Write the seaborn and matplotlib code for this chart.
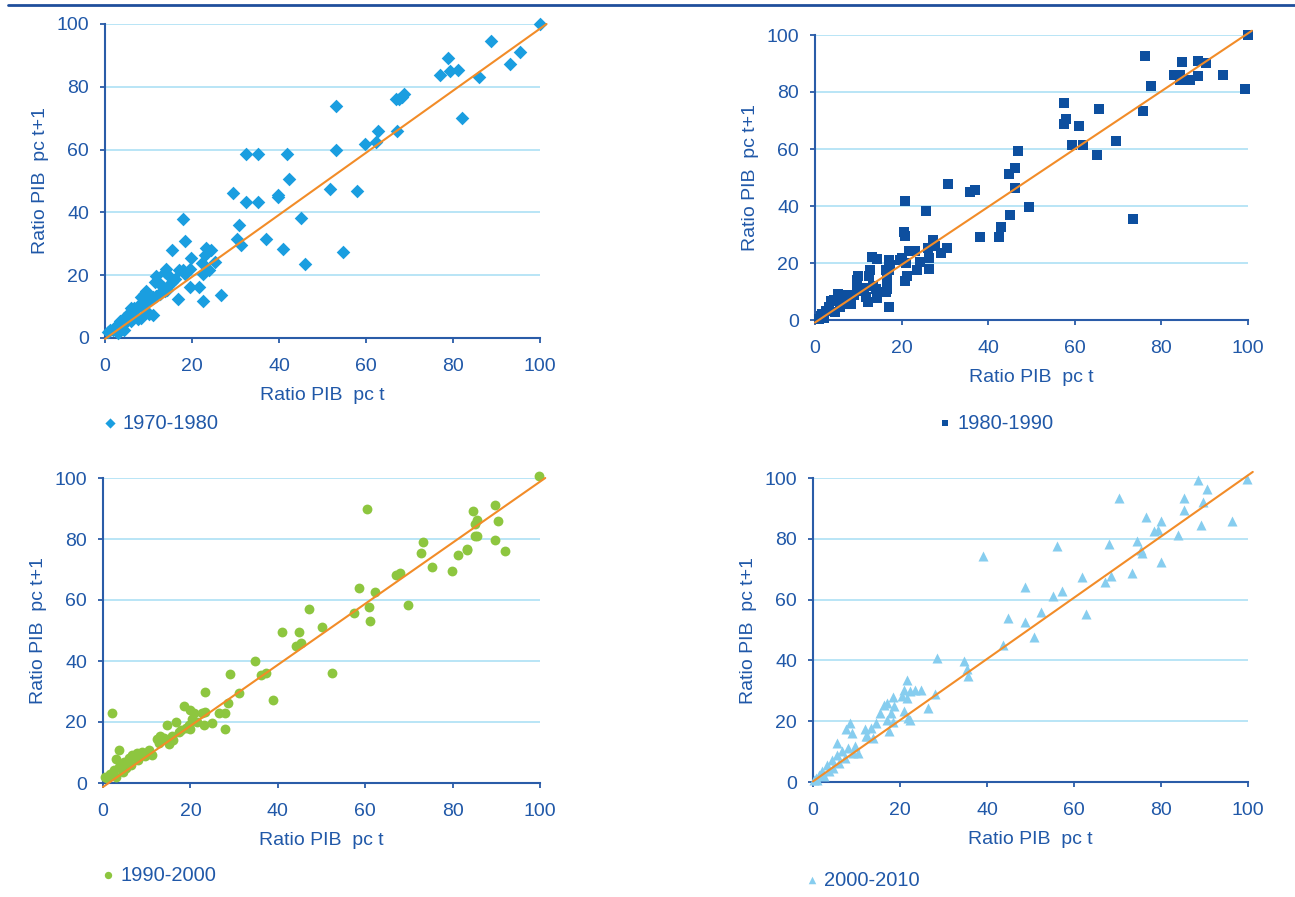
import matplotlib
matplotlib.use("Agg")
import pandas as pd
import matplotlib.pyplot as plt
from matplotlib.lines import Line2D
import seaborn as sns

# --- data (ratio PIB pc, t vs t+1) ---
x70 = [100, 88.7, 95.3, 93.1, 78.8, 77.1, 79.3, 81.1, 86.0, 82.0, 67.0, 67.6, 68.2, 68.7, 67.2,
       62.8, 62.2, 59.7, 53.0, 53.0, 51.7, 57.9, 45.0, 54.8, 45.9, 41.9, 42.4, 39.8, 39.7, 41.0,
       36.9, 32.5, 35.2, 32.5, 35.2, 29.4, 30.8, 30.3, 31.3,
       26.7, 22.5, 18.0, 18.4, 15.5, 23.2, 24.3, 23.1, 19.8, 22.2, 25.3, 23.9, 22.5, 21.6, 19.5,
       16.7, 19.6, 18.0, 16.9, 18.4, 14.1, 13.7, 14.5, 16.1, 15.3, 14.5, 11.4, 12.6, 13.3, 13.7,
       12.9, 11.8, 11.0, 11.0, 10.2, 9.4, 9.0, 8.2, 8.6, 7.5, 6.7, 8.2, 7.5, 5.9, 5.5, 4.3, 5.1,
       3.5, 2.7, 2.0, 1.2, 4.3, 3.1, 6.7, 5.9, 11.8, 10.2, 9.3, 6.4, 12.6, 14.3, 0.7, 1.9, 3.5,
       7.7, 9.0]
y70 = [100, 94.7, 91.1, 87.3, 89.1, 83.6, 84.9, 85.5, 83.1, 70.2, 76.2, 76.2, 76.9, 77.6, 66.0,
       66.0, 62.3, 61.7, 73.8, 59.8, 47.6, 46.9, 38.3, 27.3, 23.6, 58.6, 50.6, 45.5, 45.0, 28.5,
       31.6, 58.6, 58.6, 43.2, 43.2, 46.3, 35.9, 31.6, 29.6,
       13.7, 11.8, 37.8, 31.0, 28.0, 28.8, 28.0, 26.3, 25.5, 23.9, 24.2, 21.5, 20.4, 16.3, 16.3,
       12.4, 22.0, 21.5, 21.7, 20.4, 22.0, 21.0, 20.2, 18.8, 17.7, 16.7, 17.7, 17.2, 16.3, 15.1,
       14.5, 13.4, 12.9, 7.3, 7.5, 15.1, 14.0, 12.9, 11.3, 10.2, 9.7, 6.5, 5.9, 9.7, 8.1, 6.5, 5.4,
       5.4, 3.8, 3.2, 2.4, 2.7, 1.6, 7.0, 5.4, 19.9, 12.0, 8.8, 6.7, 14.1, 15.2, 1.9, 2.6, 2.4,
       9.9, 10.5]

x80 = [100, 99.4, 94.2, 76.1, 84.8, 88.5, 90.3, 82.9, 84.2, 84.3, 86.6, 88.5, 77.5, 75.7, 73.4,
       69.5, 65.5, 65.1, 61.9, 59.4, 60.9, 57.6, 57.9, 57.5, 46.8, 46.1, 44.7, 46.1, 45.1, 49.5,
       42.9, 42.6, 38.1, 35.9, 37.0, 30.7,
       20.9, 25.6, 20.5, 20.9, 27.3, 27.7, 26.1, 30.4, 29.1, 26.4, 26.4, 21.6, 23.1, 24.3, 23.6,
       21.1, 19.6, 20.0, 21.3, 20.7, 17.0, 17.4, 17.2, 16.3, 16.6, 16.6, 16.3, 17.2, 13.1, 14.4,
       12.7, 12.5, 14.4, 14.0, 12.2, 11.8, 9.9, 9.7, 9.7, 10.7, 11.4, 13.3, 7.3, 8.4, 5.4, 4.3,
       3.2, 2.5, 1.7, 1.3, 4.7, 5.8, 6.6, 3.6, 5.4, 2.0, 1.0, 7.2, 9.0, 6.3]
y80 = [100, 80.9, 86.1, 92.8, 90.5, 91.0, 90.2, 86.1, 86.1, 84.1, 84.1, 85.6, 82.0, 73.3, 35.5,
       62.7, 73.9, 57.9, 61.3, 61.3, 68.1, 76.0, 70.4, 68.9, 59.3, 53.4, 51.2, 46.4, 36.9, 39.8,
       32.5, 29.0, 29.0, 44.9, 45.6, 47.8,
       41.9, 38.4, 30.9, 29.4, 28.0, 26.0, 25.1, 25.1, 23.6, 21.6, 18.0, 24.2, 24.2, 20.4, 17.4,
       19.9, 21.0, 21.9, 15.6, 13.6, 21.0, 19.2, 17.4, 17.4, 13.9, 10.9, 9.8, 4.5, 22.1, 21.3,
       17.4, 15.6, 7.8, 10.9, 6.2, 8.0, 15.6, 13.9, 12.1, 10.2, 11.4, 12.1, 8.6, 5.6, 9.2, 7.1,
       4.5, 3.3, 2.1, 1.5, 2.7, 4.5, 5.6, 6.8, 6.8, 0.8, 0.5, 8.6, 8.6, 6.1]

x90 = [99.7, 60.3, 89.6, 84.7, 85.5, 85.1, 90.4, 85.2, 85.5, 89.6, 92.1, 73.2, 72.8, 75.4, 79.9,
       81.2, 83.4, 83.2, 67.1, 67.9, 69.7, 62.2, 58.6, 60.8, 61.2, 57.4, 50.2, 47.1, 44.9, 45.4,
       44.2, 41.0, 52.5, 34.8, 36.2, 37.4, 38.8,
       2.0, 29.1, 23.4, 31.2, 28.7, 18.5, 19.9, 20.8, 22.7, 23.4, 26.5, 28.0, 25.0, 23.0, 28.0,
       20.4, 19.6, 18.9, 16.6, 14.7, 17.3, 15.8, 13.9, 12.4, 12.8, 15.1, 10.5, 11.3, 9.0, 7.8,
       6.7, 5.9, 3.6, 4.8, 3.6, 2.5, 1.7, 1.0, 5.2, 0.5, 2.9, 4.5, 6.5, 8.0, 7.5, 9.5, 13.0,
       16.0, 17.8, 20.0, 21.5, 3.0]
y90 = [100.5, 89.8, 91.3, 89.3, 86.3, 84.9, 86.0, 81.1, 80.9, 79.8, 76.0, 79.1, 75.3, 70.9, 69.6,
       74.6, 76.8, 76.3, 68.3, 68.9, 58.3, 62.7, 63.9, 57.7, 53.2, 55.7, 51.3, 57.0, 49.4, 45.9,
       45.0, 49.4, 36.2, 39.9, 35.5, 36.1, 27.3,
       23.1, 35.9, 30.0, 29.6, 26.2, 25.1, 23.8, 23.1, 23.1, 23.3, 23.1, 23.1, 19.8, 18.9, 17.8,
       20.9, 19.1, 18.0, 20.0, 19.1, 16.6, 15.5, 14.9, 14.4, 13.2, 12.7, 10.9, 9.2, 10.3, 9.8,
       9.2, 8.1, 10.9, 7.0, 5.3, 4.2, 3.1, 1.8, 4.8, 2.0, 2.0, 3.5, 6.0, 7.5, 8.5, 9.0, 15.5,
       14.0, 17.5, 17.8, 20.0, 8.0]

x00 = [99.8, 88.4, 90.5, 70.3, 85.3, 85.3, 89.7, 76.5, 80.0, 89.2, 96.3, 78.3, 79.4, 84.0, 74.4,
       75.3, 75.7, 80.0, 68.1, 73.3, 68.5, 67.2, 56.2, 39.0, 61.9, 62.8, 57.2, 55.2, 48.7, 52.5,
       48.7, 44.8, 50.9, 43.7, 34.6, 35.3, 35.6,
       28.4, 21.5, 20.9, 22.3, 23.5, 24.8, 20.5, 21.6, 18.5, 17.0, 16.4, 18.6, 18.0, 20.9, 21.8,
       22.4, 26.4, 28.1, 15.5, 17.1, 18.3, 17.5, 14.5, 13.4, 11.9, 12.3, 8.5, 7.7, 8.9, 5.5, 9.6,
       8.1, 6.6, 5.5, 4.4, 3.2, 2.1, 1.4, 0.6, 9.2, 7.4, 5.9, 4.7, 3.6, 2.5, 0.3, 1.0, 10.3, 13.7,
       12.2]
y00 = [99.7, 99.2, 96.5, 93.4, 93.4, 89.5, 92.0, 87.1, 85.7, 84.5, 85.8, 82.7, 82.9, 81.3, 79.4,
       76.3, 75.2, 72.4, 78.2, 68.6, 67.7, 65.8, 77.6, 74.3, 67.5, 55.3, 62.8, 61.1, 64.2, 55.9,
       52.6, 53.9, 47.6, 45.2, 39.9, 37.2, 35.0,
       40.9, 33.7, 30.1, 29.9, 30.4, 30.1, 28.2, 27.7, 28.0, 26.0, 25.2, 24.9, 22.7, 23.3, 21.1,
       20.5, 24.2, 28.8, 22.7, 20.5, 19.6, 16.7, 19.5, 17.8, 17.3, 15.1, 19.5, 17.3, 16.2, 12.9,
       11.8, 11.2, 10.1, 9.0, 7.4, 5.7, 3.7, 2.4, 1.3, 9.6, 7.9, 6.3, 4.6, 3.5, 1.9, 0.5, 0.8,
       9.6, 14.6, 15.1]

# trend lines (start / end points)
trend70_x, trend70_y = [0, 101.5], [-0.3, 100]
trend80_x, trend80_y = [0, 100.9], [-0.9, 101.5]
trend90_x, trend90_y = [0, 101.2], [-1.3, 100]
trend00_x, trend00_y = [0, 101.1], [0.2, 102]

periods = ['1970-1980', '1980-1990', '1990-2000', '2000-2010']
ticks = [0, 20, 40, 60, 80, 100]

# --- styling ---
sns.set_theme(style="white")
plt.rcParams['font.family'] = ['Liberation Sans', 'DejaVu Sans']

TXT = '#2058a8'
SPINE = '#2a5ca8'
GRID = '#b3e3f6'
ORANGE = '#f28c28'
FS = 14

W, H = 1295, 897
fig = plt.figure(figsize=(W / 100, H / 100), dpi=100)


def px_rect(x0, x1, ytop, ybot):
    return [x0 / W, 1 - ybot / H, (x1 - x0) / W, (ybot - ytop) / H]


panels = [
    dict(x=x70, y=y70, tx=trend70_x, ty=trend70_y, label=periods[0], marker='D', s=48,
         color='#1a9ee0', rect=px_rect(105, 540, 24, 338), leg=(104, 423)),
    dict(x=x80, y=y80, tx=trend80_x, ty=trend80_y, label=periods[1], marker='s', s=44,
         color='#0d4f9f', rect=px_rect(815, 1248, 35, 320), leg=(939, 423)),
    dict(x=x90, y=y90, tx=trend90_x, ty=trend90_y, label=periods[2], marker='o', s=50,
         color='#8dc63f', rect=px_rect(103, 540, 478, 783), leg=(102, 875)),
    dict(x=x00, y=y00, tx=trend00_x, ty=trend00_y, label=periods[3], marker='^', s=52,
         color='#86cdef', rect=px_rect(813, 1248, 478, 782), leg=(806, 880)),
]

for p in panels:
    ax = fig.add_axes(p['rect'])
    df = pd.DataFrame({'t': p['x'], 't1': p['y']})
    sns.scatterplot(data=df, x='t', y='t1', marker=p['marker'], s=p['s'], color=p['color'],
                    linewidth=0, ax=ax, clip_on=False, zorder=3, label=p['label'])
    ax.plot(p['tx'], p['ty'], color=ORANGE, lw=1.5, zorder=4, clip_on=False)

    ax.set_xlim(0, 100)
    ax.set_ylim(0, 100)
    ax.set_xticks(ticks)
    ax.set_yticks(ticks)
    ax.yaxis.grid(True, color=GRID, lw=1.3)
    ax.xaxis.grid(False)
    ax.set_axisbelow(True)
    for side in ['top', 'right']:
        ax.spines[side].set_visible(False)
    for side in ['left', 'bottom']:
        ax.spines[side].set_color(SPINE)
        ax.spines[side].set_linewidth(1.5)
    ax.tick_params(direction='out', length=3.6, width=1.3, color=SPINE,
                   labelcolor=TXT, labelsize=FS, left=True, bottom=True)
    ax.tick_params(axis='x', pad=11)
    ax.tick_params(axis='y', pad=8)
    ax.set_xlabel('Ratio PIB  pc t', color=TXT, fontsize=FS, labelpad=8.5)
    ax.set_ylabel('Ratio PIB  pc t+1', color=TXT, fontsize=FS, labelpad=5)

    ax.legend(loc='center left', bbox_to_anchor=(p['leg'][0] / W, 1 - p['leg'][1] / H),
              bbox_transform=fig.transFigure, frameon=False, fontsize=14.5,
              markerscale=0.75, handlelength=0.6, handletextpad=0.3, borderpad=0,
              borderaxespad=0, labelcolor=TXT)

# thin rule across the top
fig.add_artist(Line2D([8 / W, 1], [1 - 5 / H, 1 - 5 / H], color='#1f4e9c', lw=2))

plt.savefig('out.png', dpi=100)
